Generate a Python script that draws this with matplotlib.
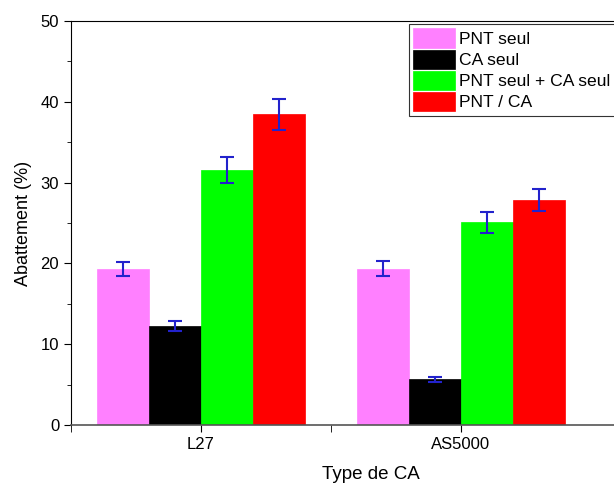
import matplotlib.pyplot as plt
import numpy as np

plt.rcParams['font.family'] = ['Liberation Sans', 'DejaVu Sans']

groups = ['L27', 'AS5000']
series = ['PNT seul', 'CA seul', 'PNT seul + CA seul', 'PNT / CA']
colors = ['#ff80ff', '#000000', '#00ff00', '#ff0000']
values = [[19.3, 19.35],
          [12.25, 5.65],
          [31.6, 25.1],
          [38.45, 27.8]]
errors = [[0.9, 0.95],
          [0.6, 0.33],
          [1.6, 1.28],
          [1.95, 1.36]]

fig = plt.figure(figsize=(6.14, 4.84), dpi=100)
# axes runs past the right edge of the figure, like the cropped original
ax = fig.add_axes([71 / 614, 59 / 484, 600 / 614, 404 / 484])

centers = np.array([1.0, 3.0])
offsets = [-0.6, -0.2, 0.2, 0.6]
for i in range(len(series)):
    ax.bar(centers + offsets[i], values[i], width=0.4, color=colors[i],
           edgecolor=colors[i], linewidth=0.5, label=series[i], zorder=2)
    ax.errorbar(centers + offsets[i], values[i], yerr=errors[i], fmt='none',
                ecolor='#2222cc', elinewidth=1.5, capsize=5, capthick=1.5, zorder=3)

ax.set_xlim(0, 600 / 130)
ax.set_ylim(0, 50)
ax.set_xticks(centers)
ax.set_xticklabels(groups)
ax.set_xticks([0, 2], minor=True)
ax.set_yticks(np.arange(0, 51, 10))
ax.set_yticks(np.arange(5, 50, 10), minor=True)
ax.tick_params(axis='both', which='major', labelsize=12, direction='out', length=5)
ax.tick_params(axis='both', which='minor', direction='out', length=3)
ax.tick_params(axis='x', which='minor', length=5)
ax.tick_params(top=False, right=False)
ax.spines['bottom'].set_color('#555555')
ax.spines['bottom'].set_linewidth(1.2)
ax.spines['right'].set_visible(False)

ax.set_xlabel('Type de CA', fontsize=13.5, labelpad=10)
ax.set_ylabel('Abattement (%)', fontsize=13, labelpad=6)

leg = ax.legend(loc='upper left', bbox_to_anchor=(409 / 614, 1 - 24 / 484),
                bbox_transform=fig.transFigure, fontsize=12.6, frameon=True,
                fancybox=False, edgecolor='#333333', framealpha=1,
                handlelength=2.35, handleheight=1.33, labelspacing=0.1,
                borderpad=0.25, handletextpad=0.25, borderaxespad=0)
leg.get_frame().set_linewidth(0.8)

fig.savefig('out.png', dpi=100)
